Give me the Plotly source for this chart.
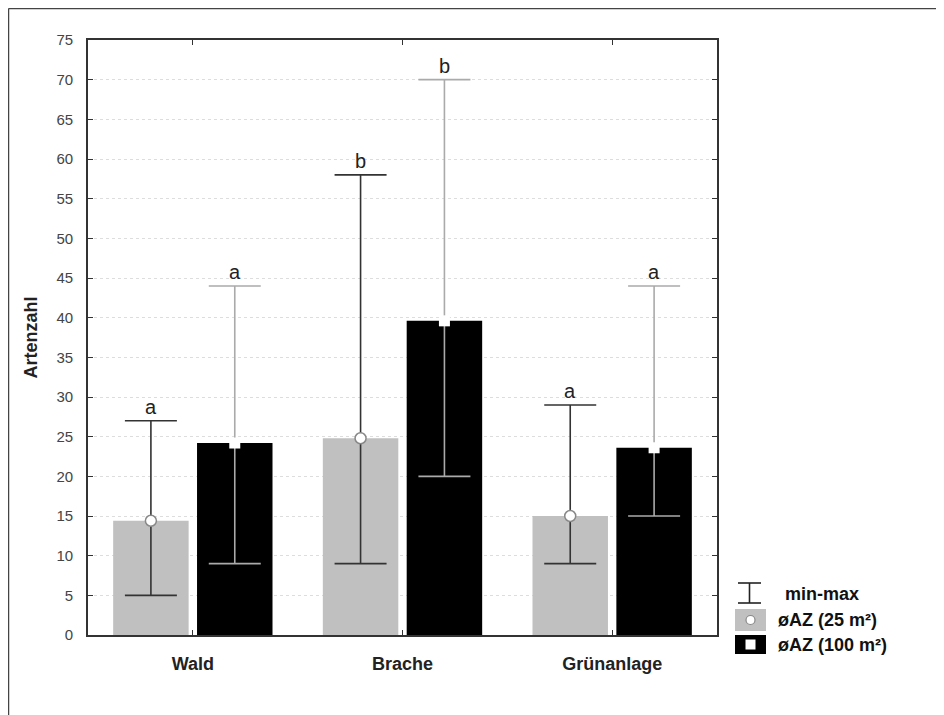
import plotly.graph_objects as go

categories = ["Wald", "Brache", "Grünanlage"]
mean_25 = [14.4, 24.8, 15.0]
min_25 = [5, 9, 9]
max_25 = [27, 58, 29]
mean_100 = [24.2, 39.6, 23.6]
min_100 = [9, 20, 15]
max_100 = [44, 70, 44]
letters_25 = ["a", "b", "a"]
letters_100 = ["a", "b", "a"]
y_ticks = list(range(0, 80, 5))

W, H = 944, 715
OFS = 8  # page body margin
# plot area in screen pixels
SL, SR, ST, SB = 88, 717, 40, 635
L, R, T, B = SL - OFS, SR - OFS, ST - OFS, SB - OFS
OFF = 0.2
BW = 0.36

idx = list(range(len(categories)))
x25 = [i - OFF for i in idx]
x100 = [i + OFF for i in idx]

def px(x):
    return (x - SL) / (SR - SL)

def py(y):
    return (SB - y) / (SB - ST)

fig = go.Figure()
fig.add_trace(go.Bar(x=x25, y=mean_25, width=BW, marker=dict(color="#c0c0c0", line=dict(width=0)), showlegend=False))
fig.add_trace(go.Bar(x=x100, y=mean_100, width=BW, marker=dict(color="#000000", line=dict(width=0)), showlegend=False))

fig.add_trace(go.Scatter(
    x=x25, y=mean_25, mode="markers",
    marker=dict(symbol="circle", size=11, color="white", line=dict(color="#888888", width=1.5)),
    error_y=dict(type="data", symmetric=False,
                 array=[mx - m for mx, m in zip(max_25, mean_25)],
                 arrayminus=[m - mn for m, mn in zip(mean_25, min_25)],
                 color="#333333", thickness=1.6, width=26),
    showlegend=False))
fig.add_trace(go.Scatter(
    x=x100, y=mean_100, mode="markers",
    marker=dict(symbol="square", size=11, color="white", line=dict(width=0)),
    error_y=dict(type="data", symmetric=False,
                 array=[mx - m for mx, m in zip(max_100, mean_100)],
                 arrayminus=[m - mn for m, mn in zip(mean_100, min_100)],
                 color="#aaaaaa", thickness=1.6, width=26),
    showlegend=False))

annotations = []
for xs, tops, labs in [(x25, max_25, letters_25), (x100, max_100, letters_100)]:
    for x, t, lab in zip(xs, tops, labs):
        annotations.append(dict(x=x, y=t, xref="x", yref="y", text=lab, showarrow=False,
                                yanchor="bottom", yshift=1,
                                font=dict(family="Liberation Sans, Arial", size=20, color="#222222")))

leg_font = dict(family="Liberation Sans, Arial", size=18, color="#111111")
annotations += [
    dict(x=px(783), y=py(594), xref="paper", yref="paper", text="<b>min-max</b>", showarrow=False,
         xanchor="left", yanchor="middle", font=leg_font),
    dict(x=px(776), y=py(620), xref="paper", yref="paper", text="<b>øAZ (25 m²)</b>", showarrow=False,
         xanchor="left", yanchor="middle", font=leg_font),
    dict(x=px(776), y=py(645), xref="paper", yref="paper", text="<b>øAZ (100 m²)</b>", showarrow=False,
         xanchor="left", yanchor="middle", font=leg_font),
]

shapes = [
    # outer frame (left and top)
    dict(type="line", xref="paper", yref="paper", x0=px(8.5), x1=px(8.5), y0=py(8.5), y1=py(740), line=dict(color="#444444", width=1.5)),
    dict(type="line", xref="paper", yref="paper", x0=px(8.5), x1=px(970), y0=py(8.5), y1=py(8.5), line=dict(color="#444444", width=1.5)),
    # legend whisker
    dict(type="line", xref="paper", yref="paper", x0=px(749.5), x1=px(749.5), y0=py(583), y1=py(603), line=dict(color="#222222", width=1.6)),
    dict(type="line", xref="paper", yref="paper", x0=px(738), x1=px(761), y0=py(583), y1=py(583), line=dict(color="#222222", width=1.6)),
    dict(type="line", xref="paper", yref="paper", x0=px(738), x1=px(761), y0=py(603), y1=py(603), line=dict(color="#222222", width=1.6)),
    # legend gray box
    dict(type="rect", xref="paper", yref="paper", x0=px(735), x1=px(766), y0=py(631), y1=py(609), fillcolor="#c0c0c0", line=dict(width=0)),
    dict(type="circle", xref="paper", yref="paper", x0=px(746), x1=px(755), y0=py(624.5), y1=py(615.5), fillcolor="white", line=dict(color="#888888", width=1.2)),
    # legend black box
    dict(type="rect", xref="paper", yref="paper", x0=px(735), x1=px(766), y0=py(654), y1=py(635), fillcolor="#000000", line=dict(width=0)),
    dict(type="rect", xref="paper", yref="paper", x0=px(745.5), x1=px(755.5), y0=py(649.5), y1=py(639.5), fillcolor="white", line=dict(width=0)),
]

fig.update_layout(
    width=W, height=H,
    margin=dict(l=L, r=W - R, t=T, b=H - B),
    paper_bgcolor="white", plot_bgcolor="white",
    barmode="overlay",
    annotations=annotations, shapes=shapes,
    font=dict(family="Liberation Sans, Arial", color="#333333"),
)
fig.update_xaxes(
    range=[-0.5, 2.5], tickvals=idx, ticktext=["<b>%s</b>" % c for c in categories],
    tickfont=dict(size=18, color="#222222"),
    ticks="inside", ticklen=5, tickcolor="#333333",
    showline=True, linecolor="#333333", linewidth=1.6, mirror="ticks",
    showgrid=False, zeroline=False, ticklabelstandoff=12,
)
fig.update_yaxes(
    range=[0, 75], tickvals=y_ticks,
    tickfont=dict(size=15, color="#444444"),
    ticks="inside", ticklen=5, tickcolor="#333333",
    showline=True, linecolor="#333333", linewidth=1.6, mirror="ticks",
    showgrid=True, gridcolor="#dddddd", griddash="dot", gridwidth=1,
    zeroline=False, ticklabelstandoff=10,
    title=dict(text="<b>Artenzahl</b>", font=dict(size=18, color="#222222"), standoff=14),
)

fig.write_html("out.html")
